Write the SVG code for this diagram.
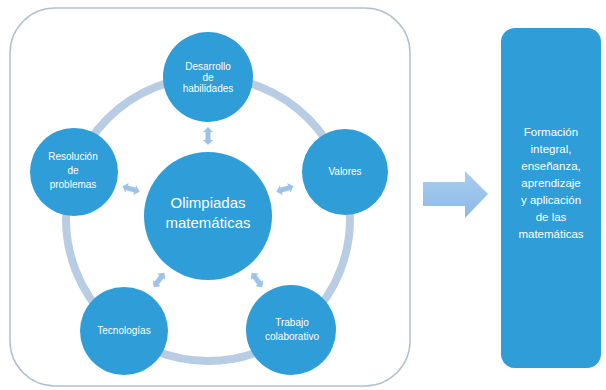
<svg xmlns="http://www.w3.org/2000/svg" width="606" height="390" viewBox="0 0 606 390">
<style>
.node{fill:#2e9dd8;}
.t{font-family:"Liberation Sans",Arial,sans-serif;fill:#ffffff;text-anchor:middle;}
.s{font-size:10px;}
.m{font-size:15px;}
.r{font-size:11.5px;}
.da{fill:#9cc3ea;}
</style>
<defs>
<path id="dbl" d="M-9,0 L-4,-5 L-4,-2.5 L4,-2.5 L4,-5 L9,0 L4,5 L4,2.5 L-4,2.5 L-4,5 Z"/>
<linearGradient id="ag" x1="0" y1="0" x2="0" y2="1">
<stop offset="0" stop-color="#a9cdf0"/>
<stop offset="1" stop-color="#8db9e4"/>
</linearGradient>
</defs>
<rect width="606" height="390" fill="#ffffff"/>
<g id="frame">
<rect x="10" y="8" width="400" height="378" rx="45" ry="45" fill="none" stroke="#b3c0cc" stroke-width="1.5"/>
</g>
<g id="ring">
<circle cx="208" cy="219" r="142" fill="none" stroke="#b8cde3" stroke-width="8"/>
</g>
<g id="connectors">
<use href="#dbl" class="da" transform="translate(208,136) rotate(90)"/>
<use href="#dbl" class="da" transform="translate(285,189) rotate(-18)"/>
<use href="#dbl" class="da" transform="translate(131,189) rotate(18)"/>
<use href="#dbl" class="da" transform="translate(159,280) rotate(-54)"/>
<use href="#dbl" class="da" transform="translate(257,280) rotate(54)"/>
<path d="M423,182 L465,182 L465,171 L488,194 L465,218 L465,206 L423,206 Z" fill="url(#ag)"/>
</g>
<g id="center">
<circle class="node" cx="208" cy="216" r="64"/>
<text class="t m" x="208" y="208">Olimpiadas</text>
<text class="t m" x="208" y="228">matemáticas</text>
</g>
<g id="desarrollo">
<circle class="node" cx="208" cy="77" r="45"/>
<text class="t s" x="208" y="70">Desarrollo</text>
<text class="t s" x="208" y="81">de</text>
<text class="t s" x="208" y="92">habilidades</text>
</g>
<g id="valores">
<circle class="node" cx="345" cy="172" r="43"/>
<text class="t s" x="345" y="175">Valores</text>
</g>
<g id="resolucion">
<circle class="node" cx="74" cy="172" r="44"/>
<text class="t s" x="73" y="160">Resolución</text>
<text class="t s" x="73" y="174">de</text>
<text class="t s" x="73" y="188">problemas</text>
</g>
<g id="tecnologias">
<circle class="node" cx="124" cy="331" r="44"/>
<text class="t s" x="124" y="334">Tecnologías</text>
</g>
<g id="trabajo">
<circle class="node" cx="291" cy="330" r="45"/>
<text class="t s" x="292" y="326">Trabajo</text>
<text class="t s" x="292" y="340">colaborativo</text>
</g>
<g id="resultado">
<rect class="node" x="501" y="28" width="100" height="340" rx="14" ry="14"/>
<text class="t r" x="551" y="136">Formación</text>
<text class="t r" x="551" y="153">integral,</text>
<text class="t r" x="551" y="170">enseñanza,</text>
<text class="t r" x="551" y="187">aprendizaje</text>
<text class="t r" x="551" y="204">y aplicación</text>
<text class="t r" x="551" y="221">de las</text>
<text class="t r" x="551" y="238">matemáticas</text>
</g>
</svg>
